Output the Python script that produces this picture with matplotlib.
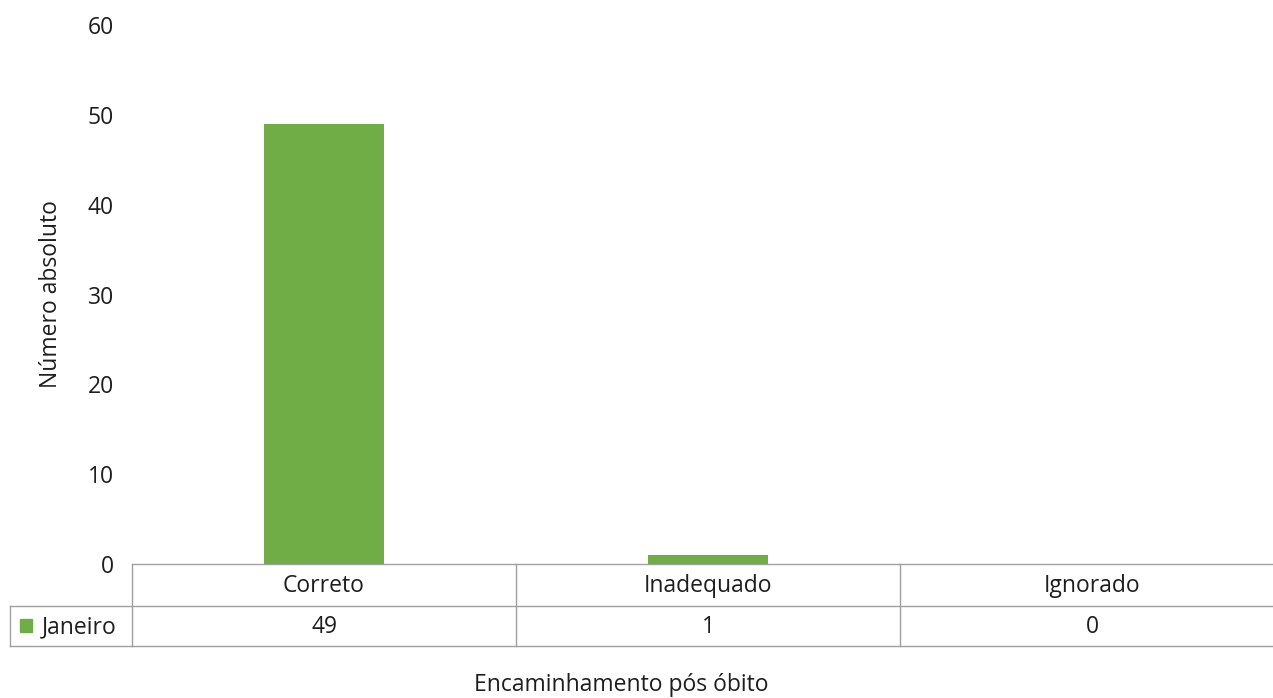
import matplotlib.pyplot as plt
from matplotlib.patches import Rectangle
import matplotlib.transforms as mtransforms

categorias = ['Correto', 'Inadequado', 'Ignorado']
janeiro = [49, 1, 0]
serie = 'Janeiro'
yticks = [0, 10, 20, 30, 40, 50, 60]

verde = '#70ad47'
cinza = '#a0a0a0'
texto = '#1e1e1e'
fs = 16.5

plt.rcParams['font.family'] = ['Open Sans', 'DejaVu Sans']
plt.rcParams['font.size'] = fs

W, H = 1273, 698
fig = plt.figure(figsize=(W / 100, H / 100), dpi=100)


def fx(px):
    return px / W


def fy(py):
    return 1 - py / H


# eixo do grafico (vai alem da borda direita, como no original)
ax = fig.add_axes([fx(132), fy(564), fx(1284 - 132), fy(25) - fy(564)])
x = list(range(len(categorias)))
ax.bar(x, janeiro, width=0.315, color=verde, zorder=3)
ax.set_xlim(-0.5, len(categorias) - 0.5)
ax.set_ylim(0, 60)
ax.set_yticks(yticks)
ax.tick_params(axis='y', length=0, pad=13, labelcolor=texto, labelsize=fs)
ax.set_xticks([])
for s in ax.spines.values():
    s.set_visible(False)
ax.set_ylabel('Número absoluto', color=texto, fontsize=fs, labelpad=18)

# tabela de dados
trans = mtransforms.blended_transform_factory(ax.transData, fig.transFigure)
y0, y1, y2 = fy(564), fy(606), fy(646)
kw = dict(color=cinza, lw=1, clip_on=False)
ax.plot([-0.5, 3], [y0, y0], transform=trans, **kw)
ax.plot([-0.5, 3], [y1, y1], transform=trans, **kw)
ax.plot([-0.5, 3], [y2, y2], transform=trans, **kw)
fig.add_artist(plt.Line2D([fx(10), fx(132)], [y1, y1], color=cinza, lw=1))
fig.add_artist(plt.Line2D([fx(10), fx(132)], [y2, y2], color=cinza, lw=1))
fig.add_artist(plt.Line2D([fx(10), fx(10)], [y1, y2], color=cinza, lw=1))
for xv in [-0.5] + [i + 0.5 for i in x]:
    ax.plot([xv, xv], [y0, y2], transform=trans, **kw)
for i, (c, v) in enumerate(zip(categorias, janeiro)):
    ax.text(i, fy(586), c, transform=trans, ha='center', va='center',
            color=texto, fontsize=fs)
    ax.text(i, fy(627), str(v), transform=trans, ha='center', va='center',
            color=texto, fontsize=fs)

# legenda na tabela
fig.add_artist(Rectangle((fx(20), fy(632)), fx(12), fy(619) - fy(632),
                         transform=fig.transFigure, color=verde))
fig.text(fx(42), fy(627), serie, ha='left', va='center', color=texto, fontsize=fs)

fig.text(fx(621), fy(685), 'Encaminhamento pós óbito', ha='center', va='center',
         color=texto, fontsize=fs)

fig.savefig('out.png', dpi=100, facecolor='white')
